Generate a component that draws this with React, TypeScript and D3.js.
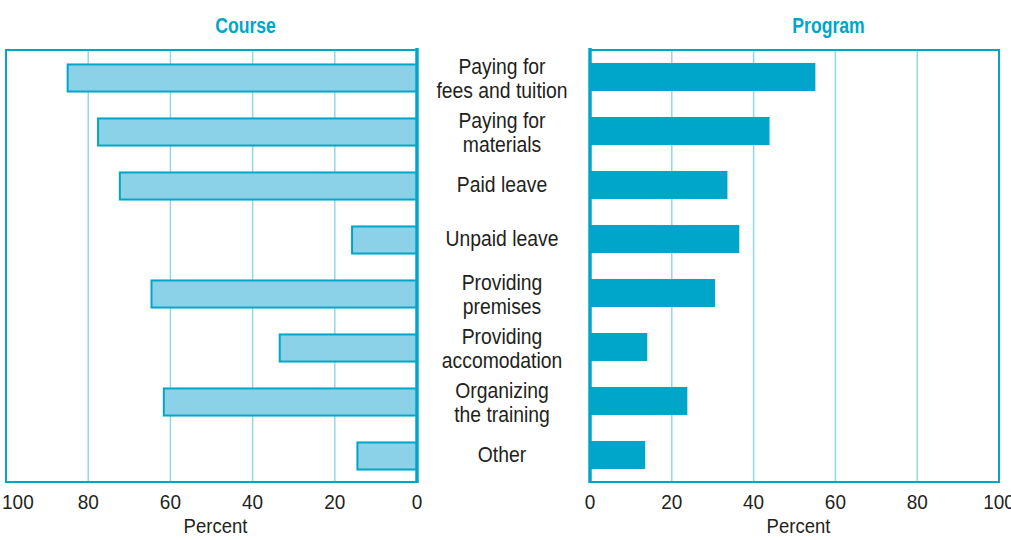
import React from "react";
import * as d3 from "d3";

const categories = [
  "Paying for\nfees and tuition",
  "Paying for\nmaterials",
  "Paid leave",
  "Unpaid leave",
  "Providing\npremises",
  "Providing\naccomodation",
  "Organizing\nthe training",
  "Other",
];
const courseValues = [85, 77.6, 72.3, 15.8, 64.6, 33.4, 61.6, 14.5];
const programValues = [55.1, 43.9, 33.6, 36.5, 30.6, 14, 23.8, 13.5];
const tickValues = [0, 20, 40, 60, 80, 100];

const W = 1011;
const H = 540;
const top = 50;
const bottom = 482;
const dark = "#00a6c9";
const light = "#8bd1e7";
const grid = "#95d5ea";
const textColor = "#231f20";
const font = "'Liberation Sans', Arial, sans-serif";

// condensed-looking text: squeeze Liberation Sans horizontally
const T = ({ x, y, size, anchor = "middle", bold = false, fill = textColor, sx = 0.9, children }: any) => (
  <text
    transform={`translate(${x},${y}) scale(${sx},1)`}
    textAnchor={anchor}
    fill={fill}
    fontSize={size}
    fontWeight={bold ? "bold" : "normal"}
    fontFamily={font}
  >
    {children}
  </text>
);

const App = () => {
  const y = d3
    .scaleBand<string>()
    .domain(categories)
    .range([top, bottom])
    .paddingInner(0.48)
    .paddingOuter(0.24);

  // left panel runs right-to-left
  const xL = d3.scaleLinear().domain([0, 100]).range([417, 6]);
  const xR = d3.scaleLinear().domain([0, 100]).range([590, 999]);

  const panel = (x: d3.ScaleLinear<number, number>, values: number[], left: boolean, title: string) => {
    const x0 = x(0);
    const x100 = x(100);
    const lo = Math.min(x0, x100);
    const hi = Math.max(x0, x100);
    const mid = (lo + hi) / 2;
    return (
      <g>
        <T x={mid + 34} y={33} size={22} bold fill={dark} sx={0.8}>
          {title}
        </T>
        {tickValues
          .filter((t) => t > 0 && t < 100)
          .map((t) => (
            <line key={t} x1={x(t)} x2={x(t)} y1={top} y2={bottom} stroke={grid} strokeWidth={1.5} />
          ))}
        <rect x={lo} y={top} width={hi - lo} height={bottom - top} fill="none" stroke={dark} strokeWidth={2} />
        {values.map((v, i) => {
          const bx = Math.min(x(0), x(v));
          const bw = Math.abs(x(v) - x(0));
          return left ? (
            <rect key={i} x={bx} y={(y(categories[i]) as number) + 1.5} width={bw} height={y.bandwidth() - 1} fill={light} stroke={dark} strokeWidth={2} />
          ) : (
            <rect key={i} x={bx} y={y(categories[i])} width={bw} height={y.bandwidth()} fill={dark} />
          );
        })}
        <line x1={x0} x2={x0} y1={top - 2} y2={bottom + 1} stroke={dark} strokeWidth={3.5} />
        {tickValues.map((t) =>
          left && t === 100 ? (
            <T key={t} x={2} y={509} size={20} anchor="start" sx={0.95}>
              {t}
            </T>
          ) : (
            <T key={t} x={x(t)} y={509} size={20} sx={0.95}>
              {t}
            </T>
          )
        )}
        <T x={mid + 4} y={533} size={19.5} sx={0.95}>
          Percent
        </T>
      </g>
    );
  };

  return (
    <svg width={W} height={H} style={{ display: "block", position: "absolute", left: 0, top: 0 }}>
      <rect width={W} height={H} fill="#fff" />
      {panel(xL, courseValues, true, "Course")}
      {panel(xR, programValues, false, "Program")}
      {categories.map((c) => {
        const lines = c.split("\n");
        const cy = (y(c) as number) + y.bandwidth() / 2;
        return (
          <g key={c}>
            {lines.map((l, j) => (
              <T key={j} x={502} y={lines.length > 1 ? cy - 3 + j * 23.5 : cy + 6.5} size={21.5} sx={0.9}>
                {l}
              </T>
            ))}
          </g>
        );
      })}
    </svg>
  );
};

export default App;
